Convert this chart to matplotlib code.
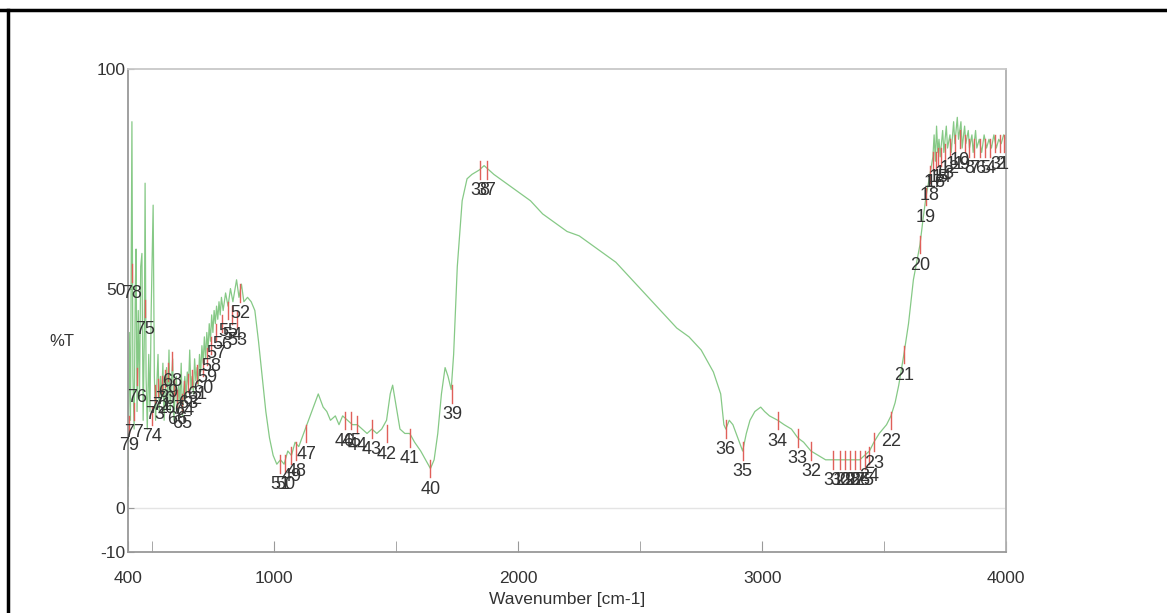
import matplotlib.pyplot as plt
from matplotlib.lines import Line2D

plt.rcParams['font.family'] = ['Liberation Sans', 'DejaVu Sans']
plt.rcParams['axes.unicode_minus'] = False

# ---- spectrum (wavenumber cm-1, %T) ----
wn = [400, 405, 410, 416, 420, 425, 430, 433, 437, 442, 447, 452, 457, 462, 467,
      470, 474, 479, 485, 490, 495, 503, 508, 513, 518, 523, 528, 533, 538, 543,
      548, 553, 558, 563, 568, 573, 578, 583, 588, 593, 598, 603, 608, 613, 618,
      623, 628, 633, 638, 643, 648, 653, 658, 663, 668, 673, 678, 683, 688, 693,
      698, 703, 708, 713, 718, 723, 728, 733, 738, 743, 748, 753, 758, 763, 768,
      773, 778, 783, 790, 800, 810, 820, 830, 845, 855, 865, 875, 890, 905, 920,
      935, 950, 965, 980, 995, 1010, 1025, 1040, 1055, 1070, 1085, 1100, 1120,
      1140, 1160, 1180, 1200, 1215, 1230, 1250, 1265, 1280, 1300, 1320, 1340,
      1360, 1380, 1400, 1420, 1440, 1460, 1475, 1485, 1500, 1515, 1535, 1555,
      1575, 1600, 1620, 1640, 1655, 1670, 1685, 1700, 1712, 1725, 1735, 1750,
      1770, 1790, 1810, 1840, 1860, 1880, 1900, 1950, 2000, 2050, 2100, 2150,
      2200, 2250, 2300, 2350, 2400, 2450, 2500, 2550, 2600, 2650, 2700, 2750,
      2800, 2830, 2843, 2851, 2865, 2880, 2900, 2920, 2935, 2950, 2970, 2994,
      3010, 3030, 3064, 3090, 3120, 3146, 3170, 3200, 3230, 3260, 3280, 3300,
      3320, 3340, 3360, 3380, 3400, 3420, 3440, 3458, 3480, 3510, 3528, 3545,
      3560, 3581, 3600, 3620, 3647, 3660, 3672, 3688, 3700, 3705, 3710, 3715,
      3720, 3725, 3730, 3740, 3745, 3755, 3760, 3770, 3775, 3785, 3790, 3800,
      3805, 3815, 3820, 3830, 3835, 3845, 3850, 3860, 3865, 3875, 3880, 3890,
      3900, 3910, 3920, 3930, 3940, 3950, 3960, 3970, 3980, 3990, 4000]
pct_t = [5, 40, 20, 88, 30, 18, 50, 59, 22, 45, 25, 55, 58, 20, 40,
         74, 30, 18, 35, 22, 45, 69, 30, 20, 28, 35, 22, 30, 25, 33,
         20, 27, 32, 24, 36, 22, 29, 34, 20, 26, 30, 22, 28, 24, 33,
         21, 27, 30, 25, 31, 28, 36, 27, 30, 26, 34, 29, 32, 28, 35,
         31, 37, 33, 39, 34, 40, 36, 42, 38, 44, 40, 45, 42, 46, 43,
         47, 44, 48, 45, 49, 46, 50, 47, 52, 48, 51, 47, 48, 47, 45,
         38, 30, 22, 16, 12, 10, 11, 10, 13, 12, 15, 14, 17,
         20, 23, 26, 23, 22, 20, 21, 19, 21, 20, 19, 19,
         18, 17, 18, 17, 18, 20, 26, 28, 23, 18, 17, 17,
         15, 13, 11, 9, 11, 17, 26, 32, 30, 27, 35, 55,
         70, 75, 76, 77, 78, 77, 76, 74, 72, 70, 67, 65,
         63, 62, 60, 58, 56, 53, 50, 47, 44, 41, 39, 36,
         31, 26, 19, 18, 20, 19, 16, 13, 17, 20, 22, 23,
         22, 21, 20, 19, 18, 16, 15, 13, 12, 11, 11, 11,
         11, 11, 11, 11, 11, 12, 13, 15, 17, 19, 21, 24,
         28, 35, 42, 52, 60, 66, 71, 76, 80, 85, 79, 87,
         81, 84, 80, 86, 81, 87, 82, 85, 81, 88, 83, 89,
         84, 88, 82, 87, 83, 86, 82, 85, 81, 86, 82, 84,
         81, 85, 82, 84, 82, 85, 82, 84, 83, 85, 84]

# ---- picked peaks (label 1 at high wavenumber) ----
peak_id = list(range(1, 80))
peak_wn = [3990, 3975, 3955, 3935, 3915, 3895, 3870, 3850, 3830, 3810,
           3790, 3770, 3750, 3735, 3722, 3712, 3702, 3688, 3672, 3647,
           3581, 3528, 3458, 3440, 3420, 3400, 3380, 3360, 3340, 3320,
           3290, 3200, 3146, 3064, 2920, 2851, 1870, 1845, 1730, 1640,
           1555, 1460, 1400, 1340, 1315, 1290, 1130, 1090, 1070, 1045,
           1025, 860, 847, 827, 810, 786, 761, 741, 724, 708,
           683, 663, 646, 630, 622, 601, 589, 581, 564, 552,
           540, 523, 511, 498, 470, 437, 425, 416, 404]
peak_t = [83, 83, 83, 82, 82, 82, 82, 82, 83, 84,
          83, 82, 81, 80, 80, 79, 79, 76, 71, 60,
          35, 20, 15, 12, 11, 11, 11, 11, 11, 11,
          11, 13, 16, 20, 13, 18, 77, 77, 26, 9,
          16, 17, 18, 19, 20, 20, 17, 13, 12, 10,
          10, 49, 43, 44, 45, 42, 40, 37, 34.5, 32,
          30.5, 29.5, 28.5, 27, 24, 25, 27.5, 33.5, 31, 29.5,
          28, 27.5, 26, 21, 45.5, 30, 22, 53.5, 19]

fig = plt.figure(figsize=(11.67, 6.13), dpi=100)
ax = fig.add_axes([0.1097, 0.0995, 0.7524, 0.7879])

ax.axhline(0, color='#e4e4e4', lw=1, zorder=0)
ax.plot(wn, pct_t, color='#86c986', lw=0.9, zorder=2)

for pid, w, t in zip(peak_id, peak_wn, peak_t):
    ax.plot([w, w], [t - 2.0, t + 2.0], color='#e0605a', lw=1.0, zorder=3)
    ax.text(w, t - 2.8, str(pid), ha='center', va='top', fontsize=13,
            color='#333333', zorder=4)

ax.set_xlim(400, 4000)
ax.set_ylim(-10, 100)
ax.set_xticks([400, 1000, 2000, 3000, 4000])
ax.set_xticks([500, 1500, 2500, 3500], minor=True)
ax.set_yticks([-10, 0, 50, 100])
ax.tick_params(axis='both', which='both', direction='in', colors='#999999',
               labelcolor='#333333', labelsize=12.5)
ax.tick_params(axis='x', which='both', length=8, pad=14)
ax.tick_params(axis='y', length=4, pad=2)

ax.set_xlabel('Wavenumber [cm-1]', fontsize=12.5, color='#333333', labelpad=4)
ax.set_ylabel('%T', fontsize=12, color='#333333', rotation=0)
ax.yaxis.set_label_coords(-0.075, 0.42)

for side, col in [('left', '#999999'), ('bottom', '#999999'),
                  ('top', '#c8c8c8'), ('right', '#b0b0b0')]:
    ax.spines[side].set_color(col)
    ax.spines[side].set_linewidth(1.3)

# black frame lines at top and left of the picture
fig.add_artist(Line2D([0, 1], [0.984, 0.984], color='black', lw=2.5,
                      transform=fig.transFigure))
fig.add_artist(Line2D([0.007, 0.007], [0, 0.984], color='black', lw=2.5,
                      transform=fig.transFigure))

fig.savefig('out.png', dpi=100)
